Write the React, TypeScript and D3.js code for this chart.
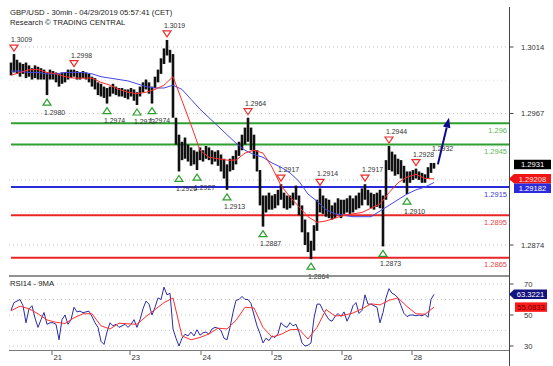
import React from "react";
import * as d3 from "d3";

const FONT = "'Liberation Sans', Arial, sans-serif";

// ---- price bars (hourly-ish aggregation) ----
const barHigh = [
  1.3003, 1.3009, 1.3005, 1.3003, 1.3002, 1.3003, 1.3001, 1.2999, 1.3001, 1.3,
  1.2999, 1.2998, 1.2996, 1.2998, 1.2997, 1.2996, 1.2995, 1.2996, 1.2996, 1.2998,
  1.2998, 1.2998, 1.2997, 1.2996, 1.2997, 1.2996, 1.2995, 1.2993, 1.2992, 1.2989,
  1.2988, 1.2986, 1.2985, 1.2986, 1.2988, 1.2986, 1.2985, 1.2985, 1.2984, 1.2984,
  1.2985, 1.2984, 1.2982, 1.2986, 1.2989, 1.2991, 1.2989, 1.2986, 1.2993, 1.2998,
  1.3006, 1.3013, 1.3019, 1.3012, 1.3009, 1.2964, 1.2952, 1.2947, 1.295, 1.2945,
  1.2943, 1.2941, 1.294, 1.2943, 1.2941, 1.2944, 1.2943, 1.2941, 1.294, 1.2941,
  1.2938, 1.2935, 1.2931, 1.2935, 1.2937, 1.2941, 1.2947, 1.2952, 1.2957, 1.2964,
  1.2957, 1.2952, 1.2941, 1.2927, 1.2909, 1.2909, 1.2911, 1.2909, 1.291, 1.2913,
  1.2917, 1.2911, 1.2909, 1.2909, 1.2911, 1.2916, 1.2909, 1.2902, 1.2892, 1.2883,
  1.2877, 1.2888, 1.2906, 1.2914, 1.2909, 1.2907, 1.2906, 1.2902, 1.2904, 1.2907,
  1.2906, 1.2906, 1.2907, 1.2909, 1.2907, 1.2909, 1.2911, 1.2914, 1.2917, 1.2913,
  1.2911, 1.291, 1.2911, 1.2913, 1.2909, 1.2934, 1.2944, 1.294, 1.2938, 1.2935,
  1.2934, 1.293, 1.2926, 1.2926, 1.2927, 1.2928, 1.2926, 1.2925, 1.2924, 1.2929,
  1.2932, 1.2932,
];
const barLow = [
  1.2994, 1.2996, 1.2995, 1.2993, 1.2995, 1.2992, 1.2993, 1.2991, 1.2992, 1.2991,
  1.2991, 1.2991, 1.298, 1.2991, 1.2991, 1.2989, 1.2986, 1.2988, 1.2989, 1.2991,
  1.2992, 1.2993, 1.2991, 1.2991, 1.2992, 1.2991, 1.2989, 1.2986, 1.2984, 1.298,
  1.2979, 1.2978, 1.2974, 1.2979, 1.2981, 1.298, 1.2979, 1.2979, 1.2978, 1.2977,
  1.2979, 1.2976, 1.2973, 1.2979, 1.2982, 1.2984, 1.2981, 1.2974, 1.2985, 1.2989,
  1.2995, 1.3002, 1.3008, 1.3003, 1.2964, 1.2945, 1.2926, 1.2934, 1.2935, 1.2933,
  1.293, 1.2931, 1.2927, 1.2934, 1.2933, 1.2935, 1.2934, 1.2931, 1.2933, 1.293,
  1.2926, 1.2921, 1.2913, 1.2926, 1.2927, 1.2931, 1.2937, 1.2941, 1.2945, 1.2947,
  1.2941, 1.2935, 1.2926, 1.2902, 1.2887, 1.2897, 1.2899, 1.2899, 1.29, 1.2902,
  1.2906, 1.29, 1.2899, 1.29, 1.2902, 1.2906, 1.2895, 1.2883, 1.2874, 1.2869,
  1.2864, 1.287, 1.2884, 1.2897, 1.2896, 1.2894, 1.2893, 1.2892, 1.2893, 1.2896,
  1.2893, 1.2896, 1.2897, 1.2896, 1.2897, 1.2899, 1.29, 1.2902, 1.2906, 1.2902,
  1.29, 1.2899, 1.2901, 1.29, 1.2873, 1.2906, 1.2927, 1.2926, 1.2923, 1.2924,
  1.2921, 1.2918, 1.291, 1.2918, 1.292, 1.2921, 1.292, 1.2918, 1.2918, 1.2921,
  1.2925, 1.2928,
];

// moving averages sampled every 3 bars
const maRed = [
  1.2994, 1.2996, 1.2998, 1.2998, 1.2996, 1.2995, 1.2993, 1.2992, 1.2992, 1.2992,
  1.2989, 1.2987, 1.2984, 1.2982, 1.2981, 1.2982, 1.2984, 1.2987, 1.2993, 1.2976,
  1.2959, 1.2941, 1.2936, 1.2935, 1.2934, 1.2934, 1.2939, 1.2941, 1.2939, 1.2929,
  1.2916, 1.2908, 1.2901, 1.2894, 1.289, 1.2891, 1.2893, 1.2895, 1.2896, 1.2897,
  1.29, 1.2903, 1.2911, 1.2918, 1.2922, 1.2924, 1.2921, 1.29208,
];
const maBlue = [
  1.2997, 1.2997, 1.2996, 1.2996, 1.2995, 1.2995, 1.2996, 1.2996, 1.2996, 1.2995,
  1.2993, 1.2992, 1.2991, 1.299, 1.2988, 1.2986, 1.2985, 1.2985, 1.2987, 1.2984,
  1.2977, 1.297, 1.2964, 1.2958, 1.2952, 1.2946, 1.2941, 1.2938, 1.2936, 1.2932,
  1.2929, 1.2925, 1.2919, 1.291, 1.2905, 1.2899, 1.2896, 1.2895, 1.2894, 1.2894,
  1.2894, 1.2898, 1.2902, 1.2906, 1.291, 1.2913, 1.2915, 1.29182,
];

// RSI14 per bar and its 9MA sampled every 3 bars
const rsi = [
  53, 58, 59, 60, 56, 45, 54, 56, 48, 42,
  47, 51.6, 44, 45, 45, 44, 34, 47, 50, 44,
  47, 55, 52, 52.5, 51.5, 52, 52.5, 49, 45, 42,
  33, 31, 39, 45, 43, 44, 42, 43, 44, 42,
  44, 47, 42, 47, 54, 59, 57, 50, 55, 61,
  60, 68, 63, 64, 41, 35, 30, 35, 37.6, 36.5,
  39, 36.5, 40.5, 37, 38.5, 39, 37.6, 41, 42, 41.5,
  40, 35, 34, 42, 51.6, 59.5, 60, 62, 60, 60,
  57.5, 50, 43, 38, 32, 35, 33.5, 36.5, 35.5, 38,
  45, 43, 42, 45, 43, 44, 39, 32, 30, 30.5,
  32, 48, 57, 57, 53, 50, 47, 46, 49, 51,
  49, 52, 46, 50, 56, 58, 51, 53, 63, 57,
  57, 56, 55, 45, 51.6, 61, 67, 64, 63, 61,
  56, 51, 49, 50, 50, 49.5, 50, 49.5, 50.5, 48.5,
  60, 63.3221,
];
const rsiMA = [
  52.7, 55.7, 54, 50.8, 46.8, 45.3, 44.5, 48.2, 50.8, 50.8,
  43, 41, 44.7, 44.3, 44, 49, 53.5, 58, 61, 36.5,
  34, 35.5, 37.8, 41.5, 41, 46.5, 55, 54.5, 42, 35.8,
  37.5, 40.5, 40.8, 34.5, 42, 53.5, 49.4, 49.8, 51.3, 54,
  57.2, 56.5, 59.5, 61, 55.5, 50.8, 50.5, 55.0833,
];

// swing markers: [bar index, price]
const swingHighs: [number, number][] = [
  [1, 1.3009], [21, 1.2998], [52, 1.3019], [79, 1.2964], [90, 1.2917],
  [103, 1.2914], [118, 1.2917], [126, 1.2944], [135, 1.2928],
];
const swingLows: [number, number][] = [
  [12, 1.298], [32, 1.2974], [42, 1.2973], [47, 1.2974], [56, 1.2926], [62, 1.2927],
  [72, 1.2913], [84, 1.2887], [100, 1.2864], [124, 1.2873], [132, 1.291],
];
const lastHighLabel: [number, number] = [141, 1.2932];

const levelValues = [1.296, 1.2945, 1.2915, 1.2895, 1.2865];
const levelLabels = ["1.296", "1.2945", "1.2915", "1.2895", "1.2865"];

const priceTicks = [1.3014, 1.2967, 1.292, 1.2874];
// the 1.2920 label is hidden behind the value badges in the reference
const priceTickLabels = ["1.3014", "1.2967", "", "1.2874"];
const rsiTicks = [70, 50, 30];
const rsiGrid = [70, 60, 50, 40, 30];
const dateLabels = ["21", "23", "24", "25", "26", "28"];
const dateIdx = [13.67, 39.67, 63.33, 87, 110.33, 133.67];

const lastClose = 1.2931;
const redMALast = 1.29208;
const blueMALast = 1.29182;
const rsiLast = 63.3221;
const rsiMALast = 55.0833;
const arrowFrom: [number, number] = [142.3, 1.2931];
const arrowTo: [number, number] = [146, 1.2964];

// styles
const levelColors = ["#2f9f2f", "#2f9f2f", "#2a2ad8", "#e82626", "#e82626"];
const levelTextColors = ["#5cb85c", "#5cb85c", "#3a3ad6", "#e84444", "#e84444"];

export default function App() {
  const x = d3.scaleLinear().domain([0, 141]).range([11, 434]);
  const y = d3.scaleLinear().domain([1.2874, 1.3014]).range([245, 47]);
  const yr = d3.scaleLinear().domain([30, 70]).range([346, 284]);
  const AX = 509.5;
  const LEFT = 9;

  const maLine = d3
    .line<number>()
    .x((_, k) => x(k * 3))
    .y((d) => y(d));
  const rsiLine = d3
    .line<number>()
    .x((_, i) => x(i))
    .y((d) => yr(d));
  const rsiMALine = d3
    .line<number>()
    .x((_, k) => x(k * 3))
    .y((d) => yr(d));

  const mids = d3.pairs(priceTicks).map(([a, b]) => (a + b) / 2);

  // arrow geometry
  const sx = x(arrowFrom[0]);
  const sy = y(arrowFrom[1]);
  const ex = x(arrowTo[0]);
  const ey = y(arrowTo[1]);
  const len = Math.hypot(ex - sx, ey - sy);
  const ux = (ex - sx) / len;
  const uy = (ey - sy) / len;
  const hl = 10;
  const hw = 3.8;
  const bx = ex - ux * hl;
  const by = ey - uy * hl;
  const head = `${ex},${ey} ${bx - uy * hw},${by + ux * hw} ${bx + uy * hw},${by - ux * hw}`;

  const badge = (
    cy: number,
    x0: number,
    x1: number,
    fill: string,
    text: string,
    tcol: string,
    pointer: boolean,
    key: string
  ) => {
    const h = 9.5;
    const t = cy - h / 2;
    const b = cy + h / 2;
    const pts = pointer
      ? `${x0 - 5},${cy} ${x0},${t} ${x1},${t} ${x1},${b} ${x0},${b}`
      : `${x0},${t} ${x1},${t} ${x1},${b} ${x0},${b}`;
    return (
      <g key={key}>
        <polygon points={pts} fill={fill} />
        <text x={(x0 + x1) / 2} y={cy + 2.8} fontSize={7.6} textAnchor="middle" fill={tcol} fontFamily={FONT}>
          {text}
        </text>
      </g>
    );
  };

  const redY = y(redMALast);
  const blueY = Math.max(y(blueMALast), redY + 9.5);

  return (
    <svg
      width={553}
      height={366}
      style={{ position: "absolute", left: 0, top: 0, background: "#fff" }}
      fontFamily={FONT}
    >
      <rect x={0} y={0} width={553} height={366} fill="#fff" />

      {/* header */}
      <text x={10} y={14.5} fontSize={7.7} fill="#222">
        GBP/USD - 30min - 04/29/2019 05:57:41 (CET)
      </text>
      <text x={10} y={24.5} fontSize={7.7} fill="#222">
        Research © TRADING CENTRAL
      </text>

      {/* main grid */}
      {priceTicks.map((p, i) => (
        <line key={"g" + i} x1={LEFT} x2={AX} y1={y(p)} y2={y(p)} stroke="#b8b8b8" strokeWidth={0.8} strokeDasharray="1,3" />
      ))}
      {mids.map((p, i) => (
        <line key={"gm" + i} x1={LEFT} x2={AX} y1={y(p)} y2={y(p)} stroke="#d8d8d8" strokeWidth={0.8} strokeDasharray="1,3" />
      ))}

      {/* support / resistance levels */}
      {levelValues.map((v, i) => (
        <g key={"lv" + i}>
          <line x1={11} x2={AX} y1={y(v)} y2={y(v)} stroke={levelColors[i]} strokeWidth={2} />
          <text x={507} y={y(v) + 9.5} fontSize={7.5} textAnchor="end" fill={levelTextColors[i]}>
            {levelLabels[i]}
          </text>
        </g>
      ))}

      {/* price bars */}
      {barHigh.map((h, i) => (
        <rect
          key={"b" + i}
          x={x(i) - 1.3}
          width={2.6}
          y={y(h)}
          height={Math.max(1, y(barLow[i]) - y(h))}
          fill="#111"
        />
      ))}

      {/* moving averages */}
      <path d={maLine(maBlue) || ""} fill="none" stroke="#4646e6" strokeWidth={1} />
      <path d={maLine(maRed) || ""} fill="none" stroke="#ff2a2a" strokeWidth={1} />

      {/* swing markers */}
      {swingHighs.map(([i, p], k) => {
        const cx = x(i);
        const cy = y(p);
        return (
          <g key={"sh" + k}>
            <polygon
              points={`${cx - 4},${cy - 9} ${cx + 4},${cy - 9} ${cx},${cy - 3}`}
              fill="#fff"
              stroke="#e8302e"
              strokeWidth={1.2}
            />
            <text x={cx - 3} y={cy - 12} fontSize={6.9} fill="#333">
              {p.toFixed(4)}
            </text>
          </g>
        );
      })}
      {swingLows.map(([i, p], k) => {
        const cx = x(i);
        const cy = y(p);
        return (
          <g key={"sl" + k}>
            <polygon
              points={`${cx - 4},${cy + 10} ${cx + 4},${cy + 10} ${cx},${cy + 4}`}
              fill="#fff"
              stroke="#2f9f2f"
              strokeWidth={1.2}
            />
            <text x={cx - 3} y={cy + 19.5} fontSize={6.9} fill="#333">
              {p.toFixed(4)}
            </text>
          </g>
        );
      })}
      <text x={x(lastHighLabel[0]) - 2} y={y(lastHighLabel[1]) - 12} fontSize={6.9} fill="#333">
        {lastHighLabel[1].toFixed(4)}
      </text>

      {/* forecast arrow */}
      <line x1={sx} y1={sy} x2={bx} y2={by} stroke="#0b0b8c" strokeWidth={2} />
      <polygon points={head} fill="#0b0b8c" />

      {/* RSI panel */}
      {rsiGrid.map((v, i) => (
        <line key={"rg" + i} x1={LEFT} x2={AX} y1={yr(v)} y2={yr(v)} stroke="#bdbdbd" strokeWidth={0.8} strokeDasharray="1,3" />
      ))}
      <line x1={LEFT} x2={AX} y1={276} y2={276} stroke="#6e6e6e" strokeWidth={1.5} />
      <line x1={LEFT} x2={AX} y1={350.5} y2={350.5} stroke="#7a7a7a" strokeWidth={1.2} />
      <text x={10} y={286} fontSize={7.7} fill="#222">
        RSI14 - 9MA
      </text>
      <path d={rsiLine(rsi) || ""} fill="none" stroke="#2b2ba8" strokeWidth={1} />
      <path d={rsiMALine(rsiMA) || ""} fill="none" stroke="#ff3030" strokeWidth={1} />

      {/* date axis */}
      {dateIdx.map((d, i) => (
        <g key={"d" + i}>
          <line x1={x(d)} x2={x(d)} y1={351} y2={355} stroke="#444" strokeWidth={0.8} />
          <text x={x(d) + 1.5} y={359.5} fontSize={7.7} fill="#333">
            {dateLabels[i]}
          </text>
        </g>
      ))}

      {/* right axis */}
      <line x1={AX} x2={AX} y1={7} y2={366} stroke="#444" strokeWidth={1} />
      {priceTicks.map((p, i) => (
        <g key={"pt" + i}>
          <line x1={AX} x2={AX + 4} y1={y(p)} y2={y(p)} stroke="#444" strokeWidth={1} />
          {priceTickLabels[i] ? (
            <text x={521} y={y(p) + 3} fontSize={7.6} fill="#333">
              {priceTickLabels[i]}
            </text>
          ) : null}
        </g>
      ))}
      {rsiTicks.map((v, i) => (
        <g key={"rt" + i}>
          <line x1={AX} x2={AX + 4} y1={yr(v)} y2={yr(v)} stroke="#444" strokeWidth={1} />
          <text x={524} y={yr(v) + 3} fontSize={7.6} fill="#333">
            {v}
          </text>
        </g>
      ))}

      {/* value badges */}
      {badge(y(lastClose), 514, 551, "#000", lastClose.toFixed(4), "#fff", false, "bc")}
      {badge(redY, 514, 551, "#f01414", redMALast.toFixed(5), "#ffe0e0", true, "br")}
      {badge(blueY, 514, 551, "#2b2bdc", blueMALast.toFixed(5), "#fff", false, "bb")}
      {badge(yr(rsiLast), 514, 547, "#14147e", rsiLast.toFixed(4), "#fff", true, "rb")}
      {badge(yr(rsiMALast), 515, 547, "#ff1a1a", rsiMALast.toFixed(4), "#6a0000", false, "rr")}
    </svg>
  );
}
